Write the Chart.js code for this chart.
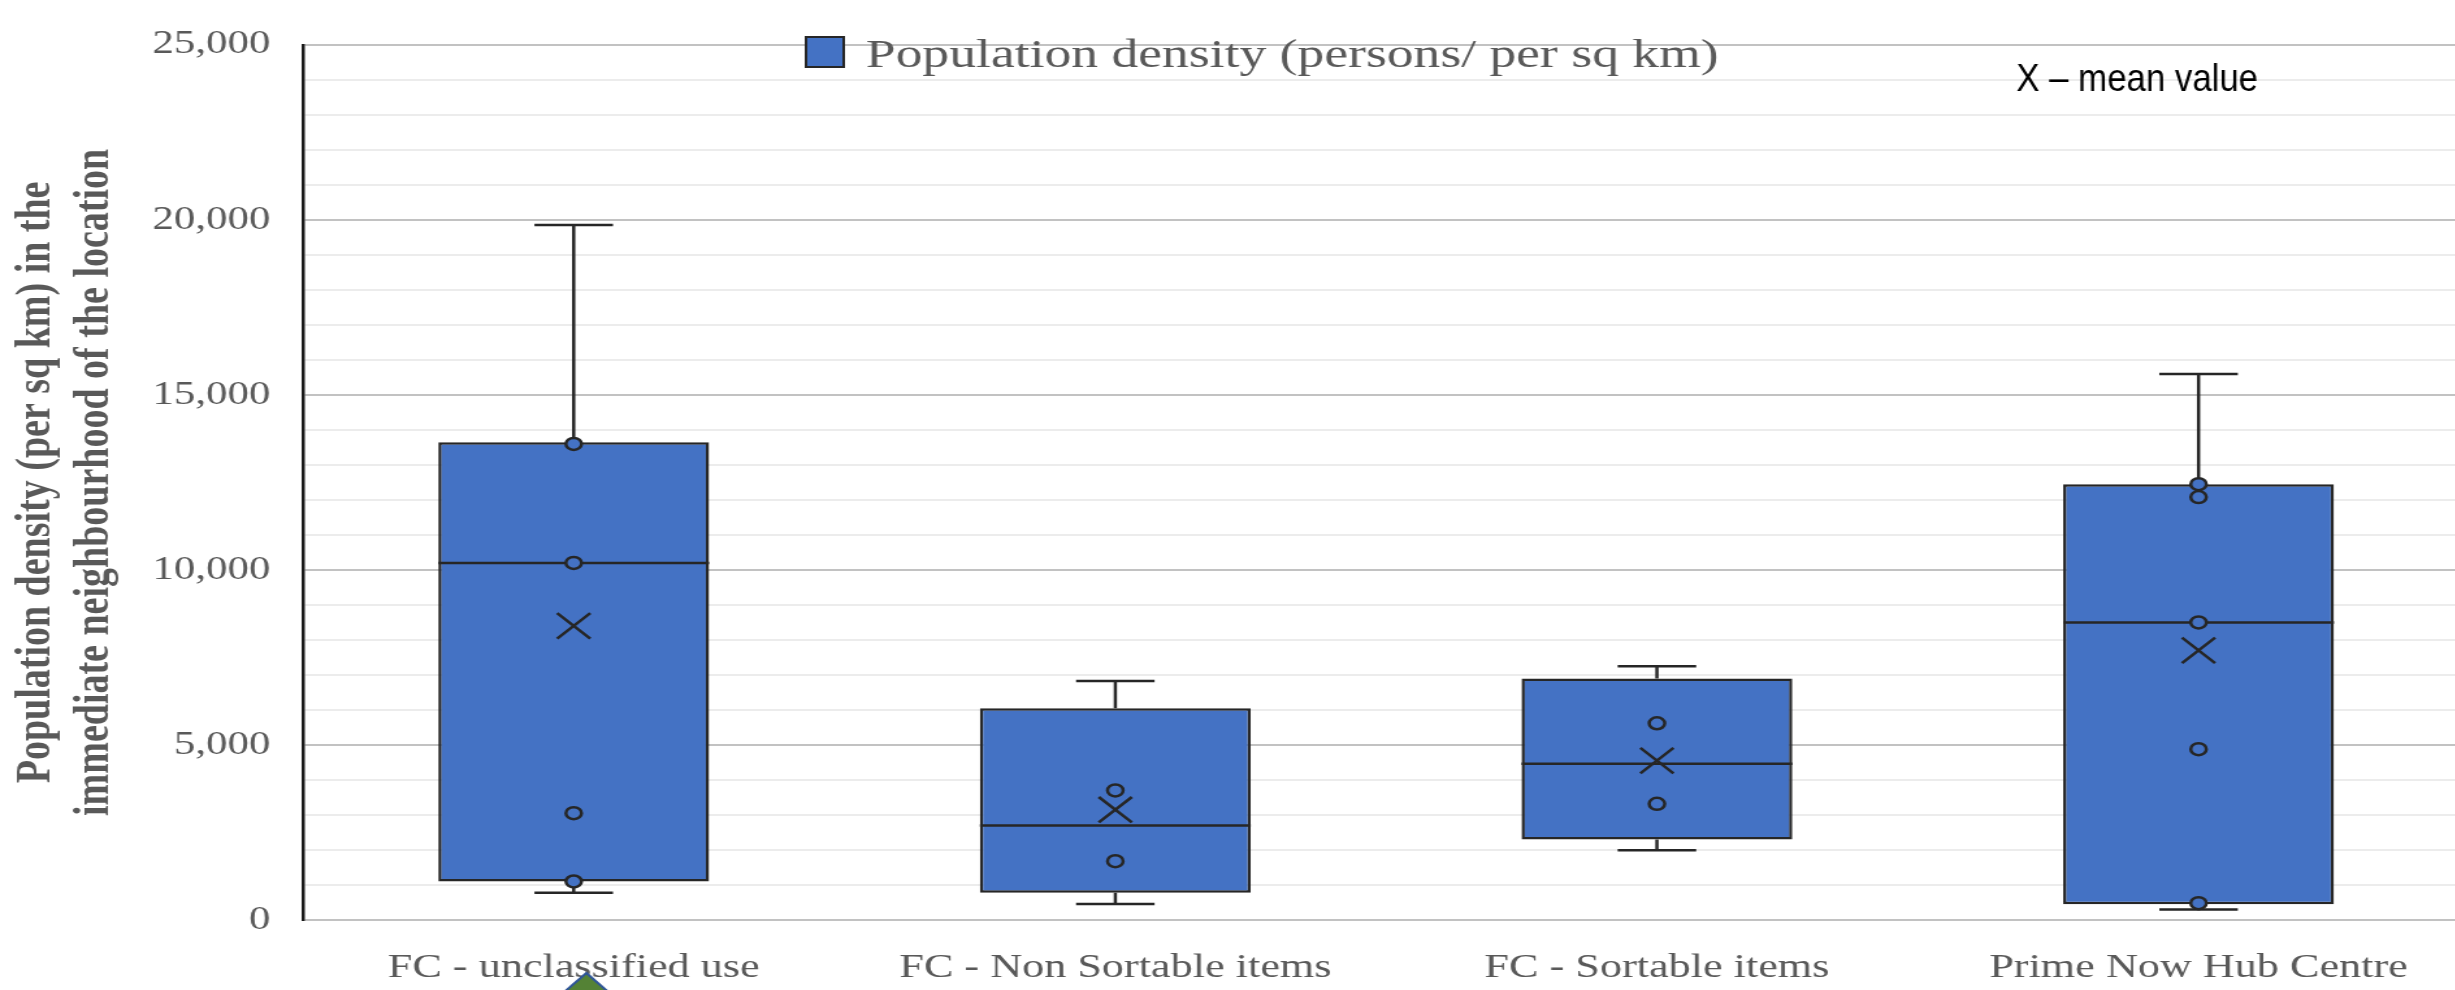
<!DOCTYPE html>
<html>
<head>
<meta charset="utf-8">
<title>Population density by facility type</title>
<script src="https://cdn.jsdelivr.net/npm/chart.js@4.4.1/dist/chart.umd.min.js"></script>
<style>
  html, body { margin: 0; padding: 0; background: #ffffff; overflow: hidden; }
  #wrap { width: 2455px; height: 990px; overflow: hidden; }
  /* the drawing is rendered narrower and widened by CSS, giving the broad lettering */
  #chart { display: block; width: 2496px !important; height: 990px !important; }
</style>
</head>
<body>
<div id="wrap"><canvas id="chart" width="1920" height="990" style="width:2496px;height:990px;"></canvas></div>
<script>
// Facility types on the category axis
const categories = ['FC - unclassified use', 'FC - Non Sortable items', 'FC - Sortable items', 'Prime Now Hub Centre'];

// Five-number summaries per facility type (persons per sq km)
const minValues    = [780, 460, 1990, 300];
const q1Values     = [1100, 780, 2300, 450];
const medianValues = [10200, 2700, 4460, 8500];
const q3Values     = [13650, 6050, 6900, 12450];
const maxValues    = [19850, 6830, 7250, 15600];
const meanValues   = [8400, 3150, 4550, 7700];

// Individual locations shown inside each box
const innerPoints = [
  [13600, 10200, 3050, 1100],
  [3700, 1680],
  [5620, 3320],
  [12450, 12080, 8500, 4880, 480]
];

const yTickLabels = ['0', '5,000', '10,000', '15,000', '20,000', '25,000'];

const seriesLabel = 'Population density (persons/ per sq km)';
const boxFill = '#4472C4';
const inkColor = '#262626';
const textGrey = '#595959';

// Whiskers, caps and median lines, drawn right after the boxes
const boxWhiskers = {
  id: 'boxWhiskers',
  afterDatasetDraw(chart, args) {
    if (args.index !== 0) return;
    const ctx = chart.ctx;
    const y = chart.scales.y;
    const meta = chart.getDatasetMeta(0);
    ctx.save();
    ctx.strokeStyle = inkColor;
    ctx.lineWidth = 2.5;
    ctx.lineCap = 'butt';
    meta.data.forEach((bar, i) => {
      const x = bar.x;
      const half = bar.width / 2;
      const cap = bar.width * 0.145;
      const yMin = y.getPixelForValue(minValues[i]);
      const yQ1 = y.getPixelForValue(q1Values[i]);
      const yMed = y.getPixelForValue(medianValues[i]);
      const yQ3 = y.getPixelForValue(q3Values[i]);
      const yMax = y.getPixelForValue(maxValues[i]);
      ctx.beginPath();
      ctx.moveTo(x, yQ3); ctx.lineTo(x, yMax);
      ctx.moveTo(x - cap, yMax); ctx.lineTo(x + cap, yMax);
      ctx.moveTo(x, yQ1); ctx.lineTo(x, yMin);
      ctx.moveTo(x - cap, yMin); ctx.lineTo(x + cap, yMin);
      ctx.moveTo(x - half, yMed); ctx.lineTo(x + half, yMed);
      ctx.stroke();
    });
    ctx.restore();
  }
};

// Draws text left-aligned at (x, y), squeezed or widened to the given width
function fitText(ctx, text, x, y, width) {
  const natural = ctx.measureText(text).width;
  ctx.save();
  ctx.translate(x, y);
  ctx.scale(width / natural, 1);
  ctx.fillText(text, 0, 0);
  ctx.restore();
}

// Legend entry and the mean-marker note, placed inside the plot area
const overlayNotes = {
  id: 'overlayNotes',
  afterDraw(chart) {
    const ctx = chart.ctx;
    ctx.save();
    // legend swatch + label
    const sx = 620, sy = 37, sw = 29, sh = 30;
    ctx.fillStyle = boxFill;
    ctx.fillRect(sx, sy, sw, sh);
    ctx.strokeStyle = inkColor;
    ctx.lineWidth = 2;
    ctx.strokeRect(sx, sy, sw, sh);
    ctx.fillStyle = textGrey;
    ctx.font = '40px "Liberation Serif", "Times New Roman", serif';
    ctx.textBaseline = 'alphabetic';
    ctx.textAlign = 'left';
    fitText(ctx, chart.data.datasets[0].label, 666, 67, 656);

    // mean marker note in a condensed sans face
    ctx.font = '39px "Liberation Sans", Arial, sans-serif';
    ctx.fillStyle = '#000000';
    fitText(ctx, 'X \u2013 mean value', 1551, 91, 186);
    ctx.restore();

    // small green marker below the first category label
    ctx.save();
    ctx.beginPath();
    ctx.moveTo(451, 973);
    ctx.lineTo(451 + 33, 1010);
    ctx.lineTo(451 - 33, 1010);
    ctx.closePath();
    ctx.fillStyle = '#548235';
    ctx.fill();
    ctx.strokeStyle = '#2F5597';
    ctx.lineWidth = 2;
    ctx.stroke();
    ctx.restore();
  }
};

const pointData = [];
innerPoints.forEach((vals, i) => vals.forEach(v => pointData.push({ x: categories[i], y: v })));
const meanData = meanValues.map((v, i) => ({ x: categories[i], y: v }));
const boxData = categories.map((c, i) => [q1Values[i], q3Values[i]]);

new Chart(document.getElementById('chart'), {
  type: 'bar',
  data: {
    labels: categories,
    datasets: [
      {
        label: seriesLabel,
        data: boxData,
        backgroundColor: boxFill,
        borderColor: inkColor,
        borderWidth: 2.5,
        borderSkipped: false,
        barPercentage: 0.5,
        categoryPercentage: 1.0,
        order: 2
      },
      {
        type: 'line',
        label: 'Locations',
        data: pointData,
        showLine: false,
        pointStyle: 'circle',
        pointRadius: 6,
        pointBorderWidth: 2.5,
        pointBackgroundColor: boxFill,
        pointBorderColor: inkColor,
        order: 1
      },
      {
        type: 'line',
        label: 'Mean',
        data: meanData,
        showLine: false,
        pointStyle: 'crossRot',
        pointRadius: 18,
        pointBorderWidth: 2.5,
        pointBorderColor: inkColor,
        pointBackgroundColor: 'rgba(0,0,0,0)',
        order: 0
      }
    ]
  },
  options: {
    responsive: false,
    devicePixelRatio: 1,
    animation: false,
    layout: { padding: { top: 23, right: 1, bottom: 0, left: 0 } },
    plugins: {
      legend: { display: false },
      tooltip: { enabled: false },
      title: { display: false }
    },
    scales: {
      x: {
        type: 'category',
        offset: true,
        grid: { display: false, drawTicks: false },
        border: { display: false },
        ticks: {
          color: textGrey,
          font: { family: '"Liberation Serif", "Times New Roman", serif', size: 34 },
          padding: 28,
          maxRotation: 0,
          autoSkip: false
        },
        afterFit(scale) { scale.height = 70; }
      },
      y: {
        min: 0,
        max: 25000,
        ticks: {
          stepSize: 1000,
          autoSkip: false,
          color: textGrey,
          font: { family: '"Liberation Serif", "Times New Roman", serif', size: 33 },
          padding: 25,
          callback: (value) => (value % 5000 === 0 ? yTickLabels[value / 5000] : '')
        },
        grid: {
          drawTicks: false,
          lineWidth: 2,
          color: (ctx) => (ctx.tick && ctx.tick.value % 5000 === 0 ? '#c2c2c2' : '#ececec')
        },
        border: { display: true, color: '#1a1a1a', width: 2.5 },
        title: {
          display: true,
          text: ['Population density (per sq km) in the', 'immediate neighbourhood of the location'],
          color: textGrey,
          font: { family: '"Liberation Serif", "Times New Roman", serif', size: 38, weight: 'bold', lineHeight: 1.17 },
          padding: { top: 6, bottom: 0 }
        },
        afterFit(scale) { scale.width = 233; }
      }
    }
  },
  plugins: [boxWhiskers, overlayNotes]
});
</script>
</body>
</html>
